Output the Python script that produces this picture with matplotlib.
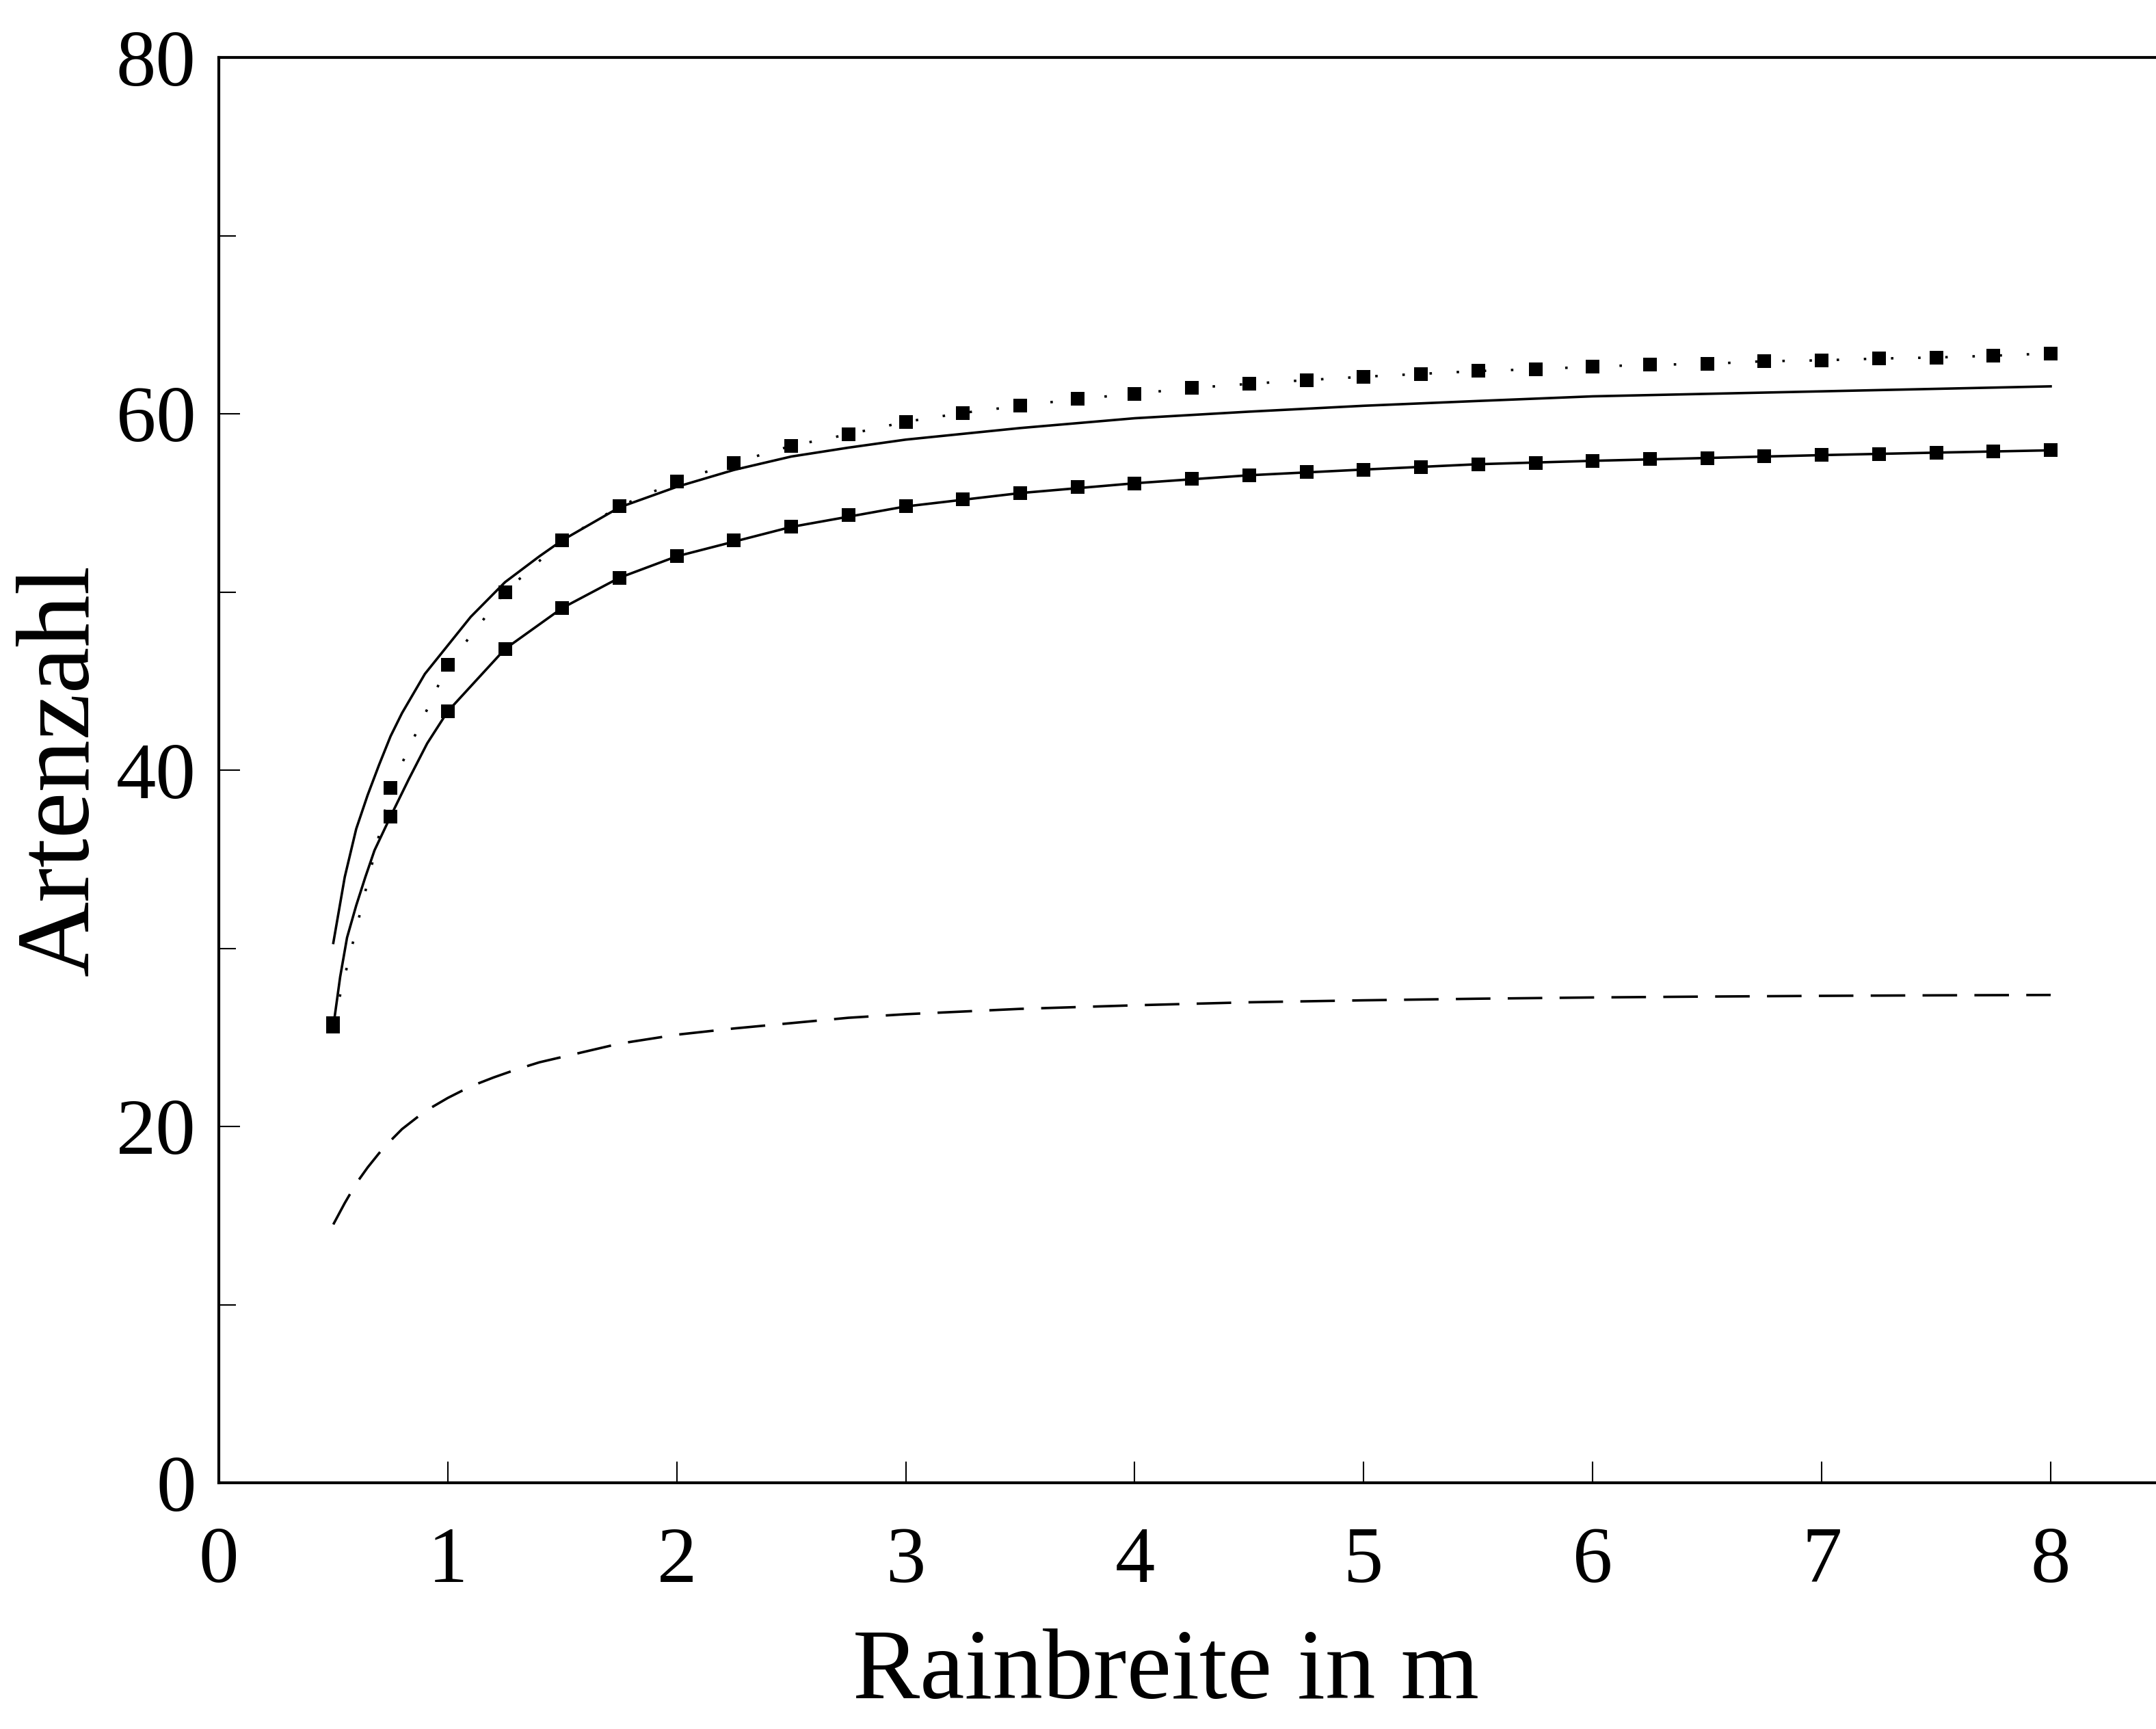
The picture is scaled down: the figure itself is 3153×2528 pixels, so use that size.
import matplotlib
matplotlib.use("Agg")
import matplotlib.pyplot as plt
from matplotlib.ticker import MultipleLocator

plt.rcParams['font.family'] = ['Liberation Serif', 'DejaVu Serif']

# data
# squares on the solid lower curve and on the dotted upper curve
pts_x = [0.5, 0.75, 1.0, 1.25, 1.5, 1.75, 2.0, 2.25, 2.5, 2.75, 3.0, 3.25, 3.5, 3.75,
         4.0, 4.25, 4.5, 4.75, 5.0, 5.25, 5.5, 5.75, 6.0, 6.25, 6.5, 6.75, 7.0, 7.25,
         7.5, 7.75, 8.0]
lower_pts = [25.6, 37.4, 43.3, 46.8, 49.1, 50.8, 52.0, 52.9, 53.65, 54.3, 54.8, 55.2,
             55.55, 55.9, 56.1, 56.35, 56.55, 56.72, 56.87, 57.0, 57.17, 57.25, 57.36,
             57.47, 57.52, 57.62, 57.68, 57.75, 57.82, 57.89, 57.95]
dotted_pts = [25.8, 39.0, 45.9, 50.0, 52.9, 54.8, 56.2, 57.25, 58.2, 58.85, 59.55, 60.05,
              60.45, 60.83, 61.12, 61.45, 61.68, 61.89, 62.08, 62.24, 62.4, 62.5, 62.65,
              62.75, 62.8, 62.95, 63.0, 63.1, 63.16, 63.26, 63.39]

# the solid lower curve itself (extra readings in the steep part)
lower_curve_x = [0.5, 0.53, 0.56, 0.6, 0.64, 0.68, 0.75, 0.83, 0.91, 1.0, 1.25, 1.5, 1.75,
                 2.0, 2.5, 3.0, 3.5, 4.0, 4.5, 5.0, 5.5, 6.0, 6.5, 7.0, 7.5, 8.0]
lower_curve_y = [25.6, 28.4, 30.6, 32.4, 34.0, 35.5, 37.4, 39.5, 41.5, 43.3, 46.8, 49.1,
                 50.8, 52.0, 53.65, 54.8, 55.55, 56.1, 56.55, 56.87, 57.17, 57.36, 57.52,
                 57.68, 57.82, 57.95]

# solid upper curve without markers
upper_x = [0.5, 0.55, 0.6, 0.65, 0.7, 0.75, 0.8, 0.9, 1.0, 1.1, 1.25, 1.4, 1.5, 1.75, 2.0,
           2.25, 2.5, 2.75, 3.0, 3.5, 4.0, 4.5, 5.0, 5.5, 6.0, 6.5, 7.0, 7.5, 8.0]
upper_y = [30.3, 34.0, 36.7, 38.6, 40.3, 41.9, 43.2, 45.4, 47.0, 48.6, 50.55, 52.0, 52.9,
           54.75, 55.9, 56.85, 57.6, 58.1, 58.55, 59.2, 59.75, 60.12, 60.45, 60.72, 60.98,
           61.12, 61.26, 61.4, 61.54]

# dashed curve
dash_x = [0.5, 0.55, 0.6, 0.65, 0.7, 0.75, 0.8, 0.9, 1.0, 1.1, 1.2, 1.3, 1.4, 1.5, 1.75,
          2.0, 2.25, 2.5, 2.75, 3.0, 3.5, 4.0, 4.5, 5.0, 5.5, 6.0, 6.5, 7.0, 7.5, 8.0]
dash_y = [14.5, 15.7, 16.8, 17.7, 18.5, 19.2, 19.85, 20.85, 21.6, 22.25, 22.75, 23.2, 23.6,
          23.9, 24.65, 25.15, 25.5, 25.8, 26.1, 26.3, 26.6, 26.8, 26.97, 27.08, 27.17,
          27.24, 27.29, 27.33, 27.36, 27.38]

x_ticks = [0, 1, 2, 3, 4, 5, 6, 7, 8]
y_ticks = [0, 20, 40, 60, 80]

fig = plt.figure(figsize=(31.53, 25.28), dpi=100)
ax = fig.add_axes([320 / 3153, 1 - 2168 / 2528, 1 - 320 / 3153, (2168 - 84) / 2528])

lw = 2.6
ax.plot(upper_x, upper_y, color='black', lw=lw)
ax.plot(lower_curve_x, lower_curve_y, color='black', lw=lw)
ax.plot(pts_x, lower_pts, ls='none', marker='s', ms=14, mew=0, color='black')
ax.plot(pts_x, dotted_pts, color='black', lw=lw, ls=(0, (1, 10)),
        marker='s', ms=14, mew=0)
ax.plot(dash_x, dash_y, color='black', lw=lw, ls=(0, (14, 7)))

ax.set_xlim(0, 8.46)
ax.set_ylim(0, 80)
ax.set_xticks(x_ticks)
ax.set_yticks(y_ticks)
ax.yaxis.set_minor_locator(MultipleLocator(10))

ax.spines['right'].set_visible(False)
for s in ['left', 'top', 'bottom']:
    ax.spines[s].set_linewidth(3)

ax.tick_params(which='major', direction='in', length=22, width=1.5, labelsize=84)
ax.tick_params(which='minor', direction='in', length=18, width=1.5)
ax.tick_params(axis='x', pad=46)
ax.tick_params(axis='y', pad=24)

ax.set_xlabel('Rainbreite in m', fontsize=106, va='center')
ax.xaxis.set_label_coords(0.489, -0.134)
ax.set_ylabel('Artenzahl', fontsize=110, va='center', ha='center')
ax.yaxis.set_label_coords(-0.0805, 0.5)

fig.savefig('out.png', dpi=100)
